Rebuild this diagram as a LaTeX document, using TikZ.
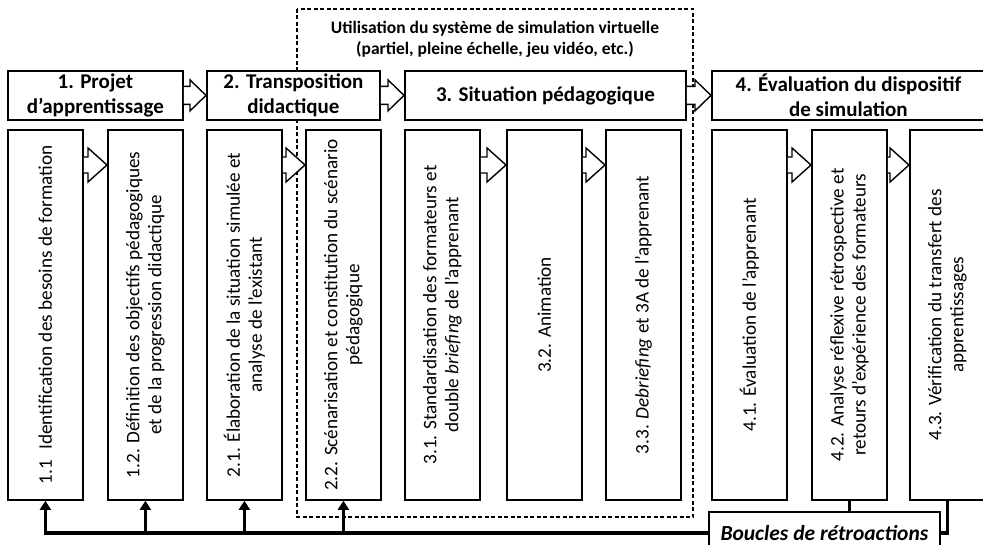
\documentclass[tikz,border=0pt]{standalone}
\usepackage{fontspec}
\setmainfont{Carlito}
\usetikzlibrary{calc,arrows.meta}

\tikzset{
  titre/.style={draw, fill=white, line width=1.8pt, align=center, inner sep=0pt, anchor=north west,
    minimum height=49pt, font=\bfseries\fontsize{21}{25}\selectfont},
  etape/.style={draw, line width=1.8pt, inner sep=0pt, anchor=north west,
    minimum width=75pt, minimum height=370pt},
  texte/.style={rotate=90, align=center, font=\fontsize{19.2}{22}\selectfont},
  creuse/.style={fill=white, line width=1.4pt, line join=miter},
  retour/.style={line width=3.2pt},
  pointe/.style={-{Triangle[width=11pt,length=9pt]}},
}

\newcommand{\flechecreuse}[5]{%
  \draw[creuse] let \p1=(#1), \p2=(#2) in
    (\x1,\y1+#3) -- (\x2-#5,\y1+#3) -- (\x2-#5,\y1+#4) -- (\x2,\y1)
    -- (\x2-#5,\y1-#4) -- (\x2-#5,\y1-#3) -- (\x1,\y1-#3);}

\begin{document}
\begin{tikzpicture}[x=1pt, y=-1pt]
    \useasboundingbox (0,0) rectangle (983,545);

    \draw[dash pattern=on 4pt off 2.5pt, line width=1.3pt] (297,9) rectangle (693,517);
    \node[align=center, font=\bfseries\fontsize{17.5}{21}\selectfont] (utilisation) at (495,39)
        {Utilisation du système de simulation virtuelle\\(partiel, pleine échelle, jeu vidéo, etc.)};

    \node[titre, minimum width=175pt] (t1) at (7,70) {1. Projet\\d’apprentissage};
    \node[titre, minimum width=173pt] (t2) at (206,70) {2. Transposition\\didactique};
    \node[titre, minimum width=281pt] (t3) at (404,70) {3. Situation pédagogique};
    \node[titre, minimum width=273pt] (t4) at (711,70) {4. Évaluation du dispositif\\de simulation};

    \foreach \nom/\x/\texte in {
        b11/7/{1.1\hspace{0.55em}Identification des besoins de formation},
        b12/107/{1.2. Définition des objectifs pédagogiques\\et de la progression didactique},
        b21/206/{2.1. Élaboration de la situation simulée et\\analyse de l’existant},
        b22/305/{2.2. Scénarisation et constitution du scénario\\pédagogique},
        b31/404/{3.1. Standardisation des formateurs et\\double \textit{briefing} de l’apprenant},
        b32/506/{3.2. Animation},
        b33/605/{3.3. \textit{Debriefing} et 3A de l’apprenant},
        b41/711/{4.1. Évaluation de l’apprenant},
        b42/811/{4.2. Analyse réflexive rétrospective et\\retours d’expérience des formateurs},
        b43/909/{4.3. Vérification du transfert des\\apprentissages}} {
        \node[etape] (\nom) at (\x,129) {};
        \node[texte] at (\nom) {\texte};
    }

    \flechecreuse{t1.east}{t2.west}{9pt}{15.5pt}{16pt}
    \flechecreuse{t2.east}{t3.west}{9pt}{15.5pt}{16pt}
    \flechecreuse{t3.east}{t4.west}{9pt}{15.5pt}{16pt}
    \foreach \a/\b in {b11/b12, b21/b22, b31/b32, b32/b33, b41/b42, b42/b43} {
        \flechecreuse{$(\a.north east)+(0,36)$}{$(\b.north west)+(0,36)$}{8pt}{17pt}{19pt}
    }

    \node[draw, line width=1.8pt, anchor=north west, minimum width=231pt, minimum height=42pt,
        font=\bfseries\itshape\fontsize{21.5}{25}\selectfont] (boucles) at (708,511) {Boucles de rétroactions};

    \draw[retour, pointe] (boucles.west) -| (b11.south);
    \foreach \nom in {b12, b21, b22} {
        \draw[retour, pointe] (\nom.south |- boucles.west) -- (\nom.south);
    }
    \draw[retour] (b42.south) -- (b42.south |- boucles.north);
    \draw[retour] (b43.south) |- (boucles.east);

\end{tikzpicture}
\end{document}
